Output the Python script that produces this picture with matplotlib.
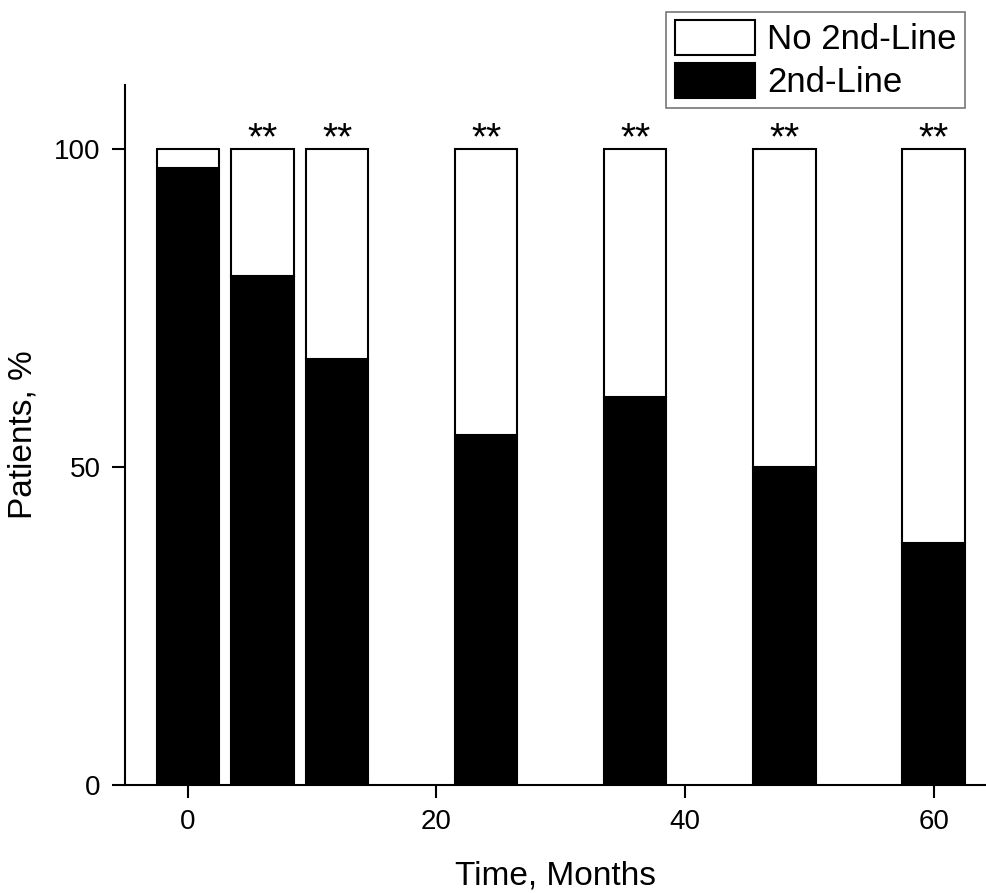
import matplotlib
matplotlib.use("Agg")
import matplotlib.pyplot as plt
import numpy as np

plt.rcParams["font.family"] = ["Liberation Sans", "DejaVu Sans"]

# data
months = [0, 6, 12, 24, 36, 48, 60]
second_line = [97, 80, 67, 55, 61, 50, 38]   # % patients on 2nd-line
marks = ["", "**", "**", "**", "**", "**", "**"]

months = np.array(months)
second_line = np.array(second_line, dtype=float)
no_second = 100 - second_line

fig = plt.figure(figsize=(9.87, 8.93), dpi=100)
ax = fig.add_axes([0.1266, 0.1209, 0.8734, 0.7839])

ax.bar(months, second_line, width=5, color="black", edgecolor="black",
       linewidth=1.5, label="2nd-Line")
ax.bar(months, no_second, width=5, bottom=second_line, color="white",
       edgecolor="black", linewidth=1.5, label="No 2nd-Line")

for m, s in zip(months, marks):
    ax.text(m, 99.9, s, ha="center", va="baseline", fontsize=28)

ax.set_xlim(-5.07, 64.3)
ax.set_ylim(0, 110)
ax.set_xticks([0, 20, 40, 60])
ax.set_yticks([0, 50, 100])
ax.tick_params(direction="out", length=9.5, width=1.5, labelsize=20, pad=8)

for side in ("top", "right"):
    ax.spines[side].set_visible(False)
for side in ("left", "bottom"):
    ax.spines[side].set_linewidth(1.5)

ax.set_xlabel("Time, Months", fontsize=24, labelpad=18)
ax.set_ylabel("Patients, %", fontsize=24, labelpad=11)

handles, labels = ax.get_legend_handles_labels()
leg = fig.legend(handles[::-1], labels[::-1], loc="upper right",
                 bbox_to_anchor=(0.978, 0.987), fontsize=25,
                 frameon=True, fancybox=False, edgecolor="#555555",
                 handlelength=2.3, handleheight=1.15, handletextpad=0.35,
                 labelspacing=0.2, borderpad=0.25, borderaxespad=0)
leg.get_frame().set_linewidth(1.2)

fig.savefig("out.png", dpi=100)
